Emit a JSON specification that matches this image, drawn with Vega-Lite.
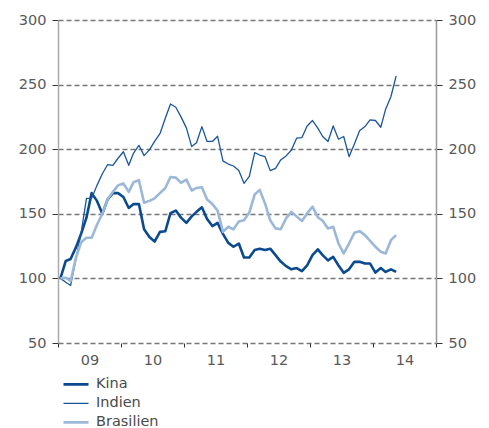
{
  "$schema": "https://vega.github.io/schema/vega-lite/v6.json",
  "width": 378,
  "height": 323,
  "autosize": {"type": "none"},
  "padding": {"left": 58, "top": 20, "right": 53, "bottom": 85},
  "config": {
    "view": {"stroke": null},
    "font": "DejaVu Sans",
    "axis": {
      "labelFont": "DejaVu Sans",
      "labelFontSize": 14.5,
      "labelColor": "#595959",
      "tickColor": "#333333",
      "tickWidth": 1,
      "title": null
    },
    "legend": {
      "orient": "none",
      "legendX": 4,
      "legendY": 355,
      "title": null,
      "symbolType": "stroke",
      "symbolSize": 625,
      "labelFont": "DejaVu Sans",
      "labelFontSize": 14.5,
      "labelColor": "#4a4a4a",
      "labelOffset": 6,
      "clipHeight": 18.7,
      "rowPadding": 0
    }
  },
  "data": {
    "values": [
      {"date": "2009-01-15T00:00", "Kina": 100, "Indien": 100, "Brasilien": 100},
      {"date": "2009-02-15T00:00", "Kina": 113.5, "Indien": 97, "Brasilien": 100.5},
      {"date": "2009-03-15T00:00", "Kina": 115, "Indien": 94.5, "Brasilien": 98},
      {"date": "2009-04-15T00:00", "Kina": 124, "Indien": 115, "Brasilien": 116},
      {"date": "2009-05-15T00:00", "Kina": 134.5, "Indien": 135, "Brasilien": 128},
      {"date": "2009-06-15T00:00", "Kina": 147, "Indien": 162, "Brasilien": 131.5},
      {"date": "2009-07-15T00:00", "Kina": 166, "Indien": 162, "Brasilien": 131.5},
      {"date": "2009-08-15T00:00", "Kina": 160, "Indien": 172, "Brasilien": 141.5},
      {"date": "2009-09-15T00:00", "Kina": 150, "Indien": 181, "Brasilien": 150},
      {"date": "2009-10-15T00:00", "Kina": 161, "Indien": 188, "Brasilien": 161},
      {"date": "2009-11-15T00:00", "Kina": 166, "Indien": 187.5, "Brasilien": 167},
      {"date": "2009-12-15T00:00", "Kina": 166, "Indien": 193, "Brasilien": 172},
      {"date": "2010-01-15T00:00", "Kina": 163, "Indien": 198, "Brasilien": 173.5},
      {"date": "2010-02-15T00:00", "Kina": 154.5, "Indien": 187.5, "Brasilien": 167},
      {"date": "2010-03-15T00:00", "Kina": 157.5, "Indien": 197, "Brasilien": 174.5},
      {"date": "2010-04-15T00:00", "Kina": 157.5, "Indien": 203, "Brasilien": 176},
      {"date": "2010-05-15T00:00", "Kina": 138, "Indien": 195, "Brasilien": 158.5},
      {"date": "2010-06-15T00:00", "Kina": 132, "Indien": 199.5, "Brasilien": 160},
      {"date": "2010-07-15T00:00", "Kina": 128.5, "Indien": 206, "Brasilien": 162},
      {"date": "2010-08-15T00:00", "Kina": 136, "Indien": 212, "Brasilien": 166},
      {"date": "2010-09-15T00:00", "Kina": 136.5, "Indien": 224, "Brasilien": 170},
      {"date": "2010-10-15T00:00", "Kina": 150.5, "Indien": 235, "Brasilien": 178.5},
      {"date": "2010-11-15T00:00", "Kina": 152.5, "Indien": 232.5, "Brasilien": 178},
      {"date": "2010-12-15T00:00", "Kina": 147, "Indien": 225, "Brasilien": 174},
      {"date": "2011-01-15T00:00", "Kina": 143, "Indien": 216.5, "Brasilien": 176.5},
      {"date": "2011-02-15T00:00", "Kina": 148, "Indien": 202, "Brasilien": 168},
      {"date": "2011-03-15T00:00", "Kina": 151.5, "Indien": 205, "Brasilien": 170},
      {"date": "2011-04-15T00:00", "Kina": 155, "Indien": 217.5, "Brasilien": 170.5},
      {"date": "2011-05-15T00:00", "Kina": 146, "Indien": 206, "Brasilien": 161},
      {"date": "2011-06-15T00:00", "Kina": 140.5, "Indien": 206, "Brasilien": 157.5},
      {"date": "2011-07-15T00:00", "Kina": 143, "Indien": 210, "Brasilien": 152.5},
      {"date": "2011-08-15T00:00", "Kina": 134.5, "Indien": 191, "Brasilien": 136},
      {"date": "2011-09-15T00:00", "Kina": 127.5, "Indien": 188.5, "Brasilien": 140},
      {"date": "2011-10-15T00:00", "Kina": 124.5, "Indien": 187, "Brasilien": 138},
      {"date": "2011-11-15T00:00", "Kina": 127, "Indien": 183.5, "Brasilien": 144},
      {"date": "2011-12-15T00:00", "Kina": 116.2, "Indien": 173.6, "Brasilien": 145},
      {"date": "2012-01-15T00:00", "Kina": 116.2, "Indien": 179, "Brasilien": 151},
      {"date": "2012-02-15T00:00", "Kina": 122, "Indien": 197.3, "Brasilien": 165},
      {"date": "2012-03-15T00:00", "Kina": 123, "Indien": 195.5, "Brasilien": 168.5},
      {"date": "2012-04-15T00:00", "Kina": 122, "Indien": 194.2, "Brasilien": 158},
      {"date": "2012-05-15T00:00", "Kina": 123, "Indien": 183.4, "Brasilien": 145},
      {"date": "2012-06-15T00:00", "Kina": 118, "Indien": 185.2, "Brasilien": 138.7},
      {"date": "2012-07-15T00:00", "Kina": 113, "Indien": 191.7, "Brasilien": 138},
      {"date": "2012-08-15T00:00", "Kina": 109.5, "Indien": 194.8, "Brasilien": 146.5},
      {"date": "2012-09-15T00:00", "Kina": 107, "Indien": 199.4, "Brasilien": 151.5},
      {"date": "2012-10-15T00:00", "Kina": 108, "Indien": 208.5, "Brasilien": 148},
      {"date": "2012-11-15T00:00", "Kina": 105.6, "Indien": 209, "Brasilien": 144.5},
      {"date": "2012-12-15T00:00", "Kina": 110, "Indien": 218, "Brasilien": 150.3},
      {"date": "2013-01-15T00:00", "Kina": 118, "Indien": 222.2, "Brasilien": 155.5},
      {"date": "2013-02-15T00:00", "Kina": 122.5, "Indien": 216.3, "Brasilien": 147.3},
      {"date": "2013-03-15T00:00", "Kina": 118, "Indien": 209.8, "Brasilien": 144.6},
      {"date": "2013-04-15T00:00", "Kina": 114, "Indien": 206, "Brasilien": 138.7},
      {"date": "2013-05-15T00:00", "Kina": 116.7, "Indien": 218, "Brasilien": 140},
      {"date": "2013-06-15T00:00", "Kina": 110, "Indien": 207.7, "Brasilien": 127},
      {"date": "2013-07-15T00:00", "Kina": 104.3, "Indien": 209.8, "Brasilien": 119.3},
      {"date": "2013-08-15T00:00", "Kina": 107, "Indien": 194.2, "Brasilien": 127},
      {"date": "2013-09-15T00:00", "Kina": 112.8, "Indien": 204.1, "Brasilien": 135.3},
      {"date": "2013-10-15T00:00", "Kina": 112.8, "Indien": 214.2, "Brasilien": 136.6},
      {"date": "2013-11-15T00:00", "Kina": 111.5, "Indien": 217.5, "Brasilien": 133.5},
      {"date": "2013-12-15T00:00", "Kina": 111.5, "Indien": 222.7, "Brasilien": 129},
      {"date": "2014-01-15T00:00", "Kina": 104.5, "Indien": 222.2, "Brasilien": 124.5},
      {"date": "2014-02-15T00:00", "Kina": 108, "Indien": 217, "Brasilien": 120.6},
      {"date": "2014-03-15T00:00", "Kina": 105, "Indien": 231, "Brasilien": 119.3},
      {"date": "2014-04-15T00:00", "Kina": 107, "Indien": 240.8, "Brasilien": 129.6},
      {"date": "2014-05-15T00:00", "Kina": 105, "Indien": 256.8, "Brasilien": 133.5}
    ]
  },
  "transform": [
    {"fold": ["Kina", "Indien", "Brasilien"], "as": ["land", "value"]}
  ],
  "encoding": {
    "x": {
      "field": "date",
      "type": "temporal",
      "scale": {
        "domain": [
          {"year": 2009, "month": 1, "date": 1},
          {"year": 2015, "month": 1, "date": 1}
        ]
      },
      "axis": {
        "values": [
          {"year": 2009, "month": 1, "date": 1},
          {"year": 2010, "month": 1, "date": 1},
          {"year": 2011, "month": 1, "date": 1},
          {"year": 2012, "month": 1, "date": 1},
          {"year": 2013, "month": 1, "date": 1},
          {"year": 2014, "month": 1, "date": 1},
          {"year": 2015, "month": 1, "date": 1}
        ],
        "labelExpr": "year(datum.value) < 2015 ? timeFormat(datum.value, '%y') : ''",
        "labelOffset": 31.5,
        "labelOverlap": false,
        "labelBound": false,
        "labelFlush": false,
        "labelPadding": 6,
        "tickSize": 4,
        "domain": false,
        "grid": false
      }
    }
  },
  "layer": [
    {
      "mark": {"type": "line", "strokeJoin": "round"},
      "encoding": {
        "y": {
          "field": "value",
          "type": "quantitative",
          "scale": {"domain": [50, 300], "nice": false, "zero": false},
          "axis": {
            "orient": "left",
            "values": [50, 100, 150, 200, 250, 300],
            "grid": true,
            "gridDash": [5, 3],
            "gridColor": "#777777",
            "gridWidth": 1.5,
            "domainColor": "#aaaaaa",
            "domainWidth": 1.5,
            "tickSize": 6,
            "labelPadding": 6
          }
        },
        "color": {
          "field": "land",
          "type": "nominal",
          "scale": {
            "domain": ["Kina", "Indien", "Brasilien"],
            "range": ["#0b4a8f", "#1b559a", "#9bb8d9"]
          }
        },
        "strokeWidth": {
          "field": "land",
          "type": "nominal",
          "scale": {
            "type": "ordinal",
            "domain": ["Kina", "Indien", "Brasilien"],
            "range": [2.6, 1.3, 2.6]
          }
        }
      }
    },
    {
      "mark": {"type": "line", "opacity": 0},
      "encoding": {
        "detail": {"field": "land"},
        "y": {
          "field": "value",
          "type": "quantitative",
          "scale": {"domain": [50, 300], "nice": false, "zero": false},
          "axis": {
            "orient": "right",
            "values": [50, 100, 150, 200, 250, 300],
            "grid": false,
            "domainColor": "#999999",
            "domainWidth": 1.5,
            "tickSize": 6,
            "labelPadding": 6
          }
        }
      }
    }
  ],
  "resolve": {"axis": {"y": "independent"}}
}
